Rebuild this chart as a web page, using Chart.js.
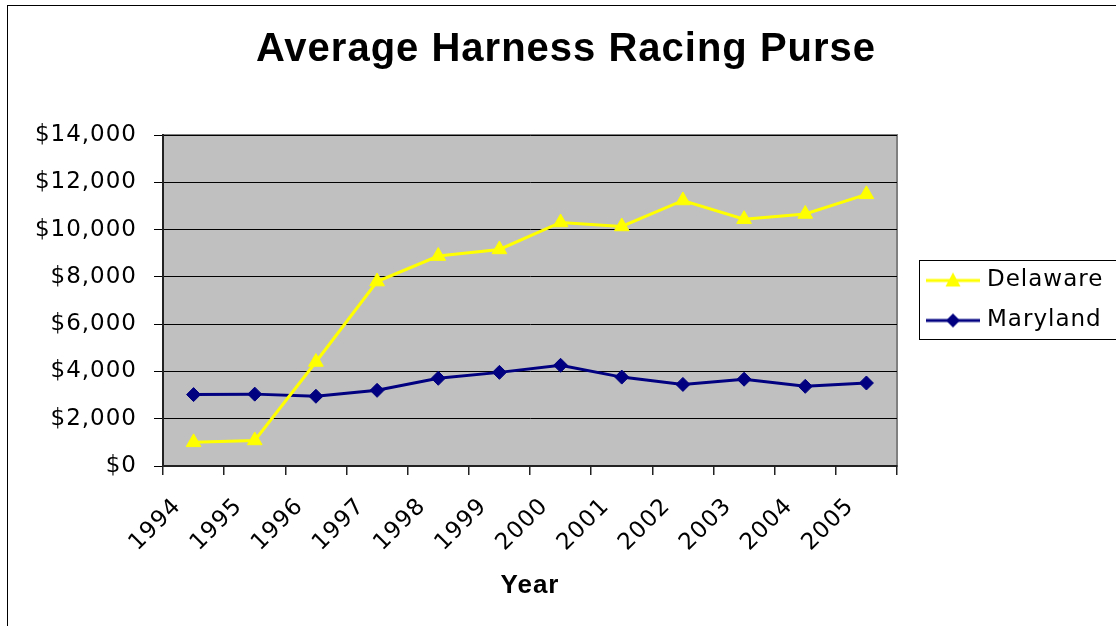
<!DOCTYPE html>
<html>
<head>
<meta charset="utf-8">
<title>Average Harness Racing Purse</title>
<script src="https://cdn.jsdelivr.net/npm/chart.js@4.4.1/dist/chart.umd.min.js"></script>
<style>
    html, body { margin: 0; padding: 0; background: #fff; overflow: hidden; }
    #wrap { width: 1116px; height: 626px; }
</style>
</head>
<body>
<div id="wrap"><canvas id="purse-chart" width="1116" height="626"></canvas></div>
<script>
// Chart data
const years = ['1994', '1995', '1996', '1997', '1998', '1999', '2000', '2001', '2002', '2003', '2004', '2005'];
const delawarePurse = [1000, 1080, 4400, 7800, 8880, 9160, 10300, 10130, 11230, 10440, 10660, 11490];
const marylandPurse = [3020, 3040, 2950, 3200, 3710, 3960, 4260, 3760, 3450, 3670, 3370, 3510];
const yMin = 0;
const yMax = 14000;
const yStep = 2000;

const YELLOW = '#ffff00';
const NAVY = '#000080';
const LEGEND_WIDTH = 219;

// Small line + marker picture used as the legend symbol
function makeLegendSample(color, shape) {
    const c = document.createElement('canvas');
    c.width = 54;
    c.height = 18;
    const g = c.getContext('2d');
    g.strokeStyle = color;
    g.lineWidth = 3;
    g.beginPath();
    g.moveTo(0, 9);
    g.lineTo(54, 9);
    g.stroke();
    g.fillStyle = color;
    g.beginPath();
    if (shape === 'triangle') {
        g.moveTo(27, 1);
        g.lineTo(34.5, 15);
        g.lineTo(19.5, 15);
    } else {
        g.moveTo(27, 2);
        g.lineTo(34, 9);
        g.lineTo(27, 16);
        g.lineTo(20, 9);
    }
    g.closePath();
    g.fill();
    return c;
}
const legendSamples = [makeLegendSample(YELLOW, 'triangle'), makeLegendSample(NAVY, 'diamond')];

// Gray plot area, outer frame, legend frame
const chartFrame = {
    id: 'chartFrame',
    beforeUpdate(chart) {
        chart.ctx.letterSpacing = '1px';
    },
    beforeLayout(chart) {
        // give the legend a fixed width so the plot area ends where it should
        const lg = chart.legend;
        if (lg && !lg._fixedWidth) {
            const fit = lg.fit;
            lg.fit = function () {
                fit.call(this);
                this.width = LEGEND_WIDTH;
            };
            lg._fixedWidth = true;
        }
    },
    afterLayout(chart) {
        // legend sits a little away from the plot area, and may run off the right edge
        const lg = chart.legend;
        lg.left = chart.chartArea.right + 16.5;
        lg.right = chart.width + 60;
    },
    beforeDraw(chart) {
        const { ctx, chartArea: a } = chart;
        ctx.letterSpacing = '1px';
        ctx.save();
        ctx.strokeStyle = '#000';
        ctx.lineWidth = 1;
        ctx.strokeRect(7.5, 5.5, chart.width + 20, chart.height + 20);
        ctx.fillStyle = '#c0c0c0';
        ctx.fillRect(a.left, a.top, a.right - a.left, a.bottom - a.top);
        ctx.strokeStyle = '#808080';
        ctx.lineWidth = 2;
        ctx.strokeRect(a.left, a.top, a.right - a.left, a.bottom - a.top);
        ctx.restore();
    },
    afterDraw(chart) {
        const { ctx, legend } = chart;
        const mid = Math.round((legend.top + legend.bottom) / 2);
        ctx.save();
        ctx.strokeStyle = '#000';
        ctx.lineWidth = 1;
        ctx.strokeRect(Math.round(legend.left) + 5.5, mid - 40.5, 300, 79);
        ctx.restore();
    }
};

const tickFont = { family: 'DejaVu Sans', size: 23 };

new Chart(document.getElementById('purse-chart'), {
    type: 'line',
    data: {
        labels: years,
        datasets: [
            {
                label: 'Delaware',
                data: delawarePurse,
                borderColor: YELLOW,
                backgroundColor: YELLOW,
                borderWidth: 3,
                pointStyle: 'triangle',
                pointRadius: 8.5,
                pointBorderWidth: 1,
                tension: 0
            },
            {
                label: 'Maryland',
                data: marylandPurse,
                borderColor: NAVY,
                backgroundColor: NAVY,
                borderWidth: 3,
                pointStyle: 'rectRot',
                pointRadius: 7,
                pointBorderWidth: 1,
                tension: 0
            }
        ]
    },
    options: {
        responsive: false,
        animation: false,
        layout: { padding: { top: 0, left: 16, right: 0, bottom: 0 } },
        scales: {
            x: {
                type: 'category',
                offset: true,
                grid: { offset: true, drawOnChartArea: false, tickLength: 9, color: '#222', lineWidth: 1.5 },
                border: { color: '#222', width: 2 },
                ticks: {
                    minRotation: 45,
                    maxRotation: 45,
                    autoSkip: false,
                    labelOffset: -16,
                    padding: 18,
                    color: '#000',
                    font: tickFont
                },
                title: {
                    display: true,
                    text: 'Year',
                    color: '#000',
                    font: { family: 'Liberation Sans', size: 26, weight: 'bold' },
                    padding: { top: 0, bottom: 25 }
                },
                afterFit(scale) { scale.height = 160; }
            },
            y: {
                min: yMin,
                max: yMax,
                grid: { color: '#000', lineWidth: 1, tickLength: 9 },
                border: { color: '#222', width: 2 },
                ticks: {
                    stepSize: yStep,
                    padding: 17,
                    color: '#000',
                    font: tickFont,
                    callback: (value) => '$' + value.toLocaleString('en-US')
                },
                afterFit(scale) { scale.width = 147; }
            }
        },
        plugins: {
            title: {
                display: true,
                text: 'Average Harness Racing Purse',
                color: '#000',
                font: { family: 'Liberation Sans', size: 40, weight: 'bold' },
                padding: { top: 26, bottom: 61 }
            },
            legend: {
                position: 'right',
                fullSize: false,
                labels: {
                    usePointStyle: true,
                    pointStyleWidth: 45,
                    padding: 17,
                    color: '#000',
                    font: tickFont,
                    generateLabels(chart) {
                        const items = Chart.defaults.plugins.legend.labels.generateLabels(chart);
                        items.forEach(item => { item.pointStyle = legendSamples[item.datasetIndex]; });
                        return items;
                    }
                }
            },
            tooltip: { enabled: false }
        }
    },
    plugins: [chartFrame]
});
</script>
</body>
</html>
